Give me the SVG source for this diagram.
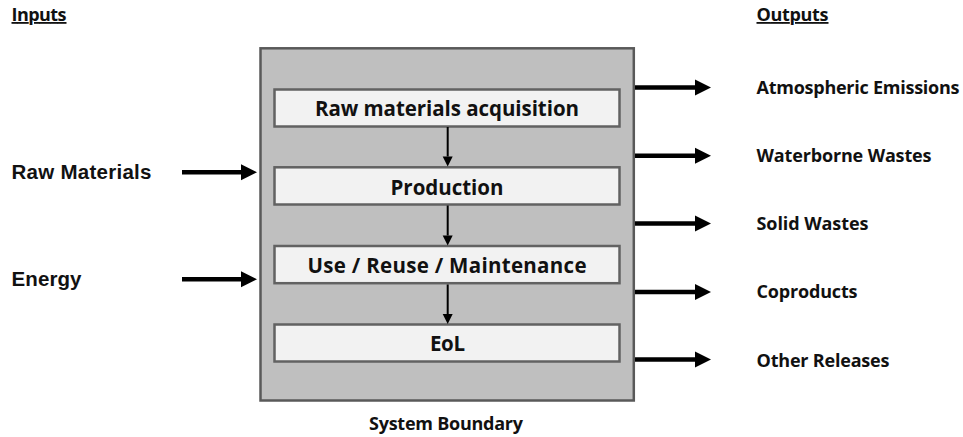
<svg xmlns="http://www.w3.org/2000/svg" width="963" height="437" viewBox="0 0 963 437">
  <style>
    .lbl { font-family: "Open Sans", "Noto Sans", sans-serif; font-weight: 700; fill: #111; }
    .hdr { font-size: 18px; text-decoration: underline; }
    .out { font-size: 18px; }
    .stage { font-size: 20.5px; text-anchor: middle; }
    .inp { font-family: "Liberation Sans", Arial, sans-serif; font-weight: 700; font-size: 20.5px; fill: #111; }
    .boundary { fill: #bfbfbf; stroke: #595959; stroke-width: 2.5; }
    .step { fill: #f2f2f2; stroke: #626262; stroke-width: 2.5; }
    .flow { stroke: #000; stroke-width: 4.5; fill: none; marker-end: url(#bigHead); }
    .seq { stroke: #000; stroke-width: 2; fill: none; marker-end: url(#smallHead); }
  </style>
  <defs>
    <marker id="bigHead" markerUnits="userSpaceOnUse" markerWidth="17" markerHeight="16" refX="0" refY="8" orient="auto" overflow="visible">
      <path d="M0,0 L16,8 L0,16 z" fill="#000"/>
    </marker>
    <marker id="smallHead" markerUnits="userSpaceOnUse" markerWidth="11" markerHeight="10" refX="0" refY="5" orient="auto" overflow="visible">
      <path d="M0,0 L10,5 L0,10 z" fill="#000"/>
    </marker>
  </defs>

  <rect width="963" height="437" fill="#ffffff"/>

  <!-- column headers -->
  <text class="lbl hdr" x="11.5" y="21" textLength="55">Inputs</text>
  <text class="lbl hdr" x="756.5" y="21" textLength="72">Outputs</text>

  <!-- system boundary -->
  <g id="system-boundary">
    <rect class="boundary" x="260.5" y="48.3" width="373.3" height="352.2"/>
    <text class="lbl out" x="446" y="430" text-anchor="middle" textLength="154">System Boundary</text>
  </g>

  <!-- life-cycle stages -->
  <g id="stage-raw-materials">
    <rect class="step" x="274.5" y="89.5" width="345" height="37"/>
    <text class="lbl stage" x="447" y="116" textLength="264">Raw materials acquisition</text>
  </g>
  <g id="stage-production">
    <rect class="step" x="274.5" y="167.3" width="345" height="37.2"/>
    <text class="lbl stage" x="447" y="195" textLength="113">Production</text>
  </g>
  <g id="stage-use">
    <rect class="step" x="274.5" y="246" width="345" height="37.2"/>
    <text class="lbl stage" x="447" y="273.3" textLength="279">Use / Reuse / Maintenance</text>
  </g>
  <g id="stage-eol">
    <rect class="step" x="274.5" y="324.5" width="345" height="37"/>
    <text class="lbl stage" x="447.5" y="350.7" textLength="35">EoL</text>
  </g>

  <!-- inputs -->
  <g id="input-raw-materials">
    <text class="inp" x="11.5" y="178.5" textLength="140">Raw Materials</text>
  </g>
  <g id="input-energy">
    <text class="inp" x="11.5" y="286" textLength="70">Energy</text>
  </g>

  <!-- outputs -->
  <g id="output-atmospheric">
    <text class="lbl out" x="756.5" y="93.5" textLength="203">Atmospheric Emissions</text>
  </g>
  <g id="output-waterborne">
    <text class="lbl out" x="756.5" y="161.8" textLength="175">Waterborne Wastes</text>
  </g>
  <g id="output-solid">
    <text class="lbl out" x="756.5" y="230" textLength="112">Solid Wastes</text>
  </g>
  <g id="output-coproducts">
    <text class="lbl out" x="756.5" y="298.3" textLength="101">Coproducts</text>
  </g>
  <g id="output-other">
    <text class="lbl out" x="756.5" y="366.7" textLength="133">Other Releases</text>
  </g>

  <!-- connectors -->
  <g id="connectors">
    <line class="flow" x1="182" y1="172.3" x2="241" y2="172.3"/>
    <line class="flow" x1="182" y1="279.3" x2="241" y2="279.3"/>

    <line class="seq" x1="447.7" y1="127" x2="447.7" y2="156.5"/>
    <line class="seq" x1="447.7" y1="205.5" x2="447.7" y2="235.5"/>
    <line class="seq" x1="447.7" y1="284.5" x2="447.7" y2="314"/>

    <line class="flow" x1="635" y1="87.5" x2="695" y2="87.5"/>
    <line class="flow" x1="635" y1="155.7" x2="695" y2="155.7"/>
    <line class="flow" x1="635" y1="223.5" x2="695" y2="223.5"/>
    <line class="flow" x1="635" y1="292" x2="695" y2="292"/>
    <line class="flow" x1="635" y1="359.5" x2="695" y2="359.5"/>
  </g>
</svg>
